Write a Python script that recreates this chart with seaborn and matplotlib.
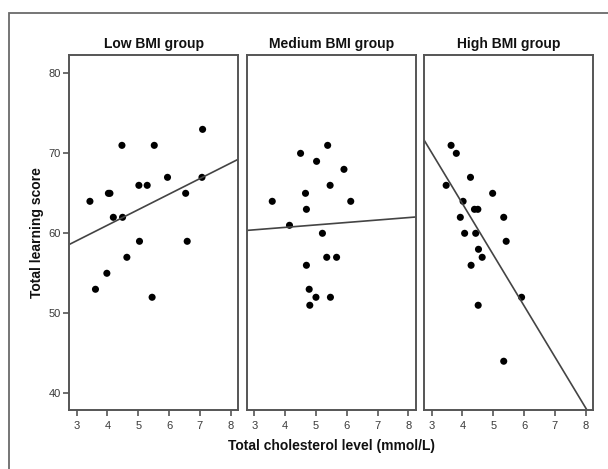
import matplotlib
matplotlib.use("Agg")
import matplotlib.pyplot as plt
from matplotlib.patches import Rectangle
import seaborn as sns
import numpy as np

sns.set_style("white")
plt.rcParams['font.family'] = ['Liberation Sans', 'DejaVu Sans']

titles = ["Low BMI group", "Medium BMI group", "High BMI group"]

low_x = [3.43, 4.03, 4.08, 4.47, 5.52, 4.19, 4.49, 5.02, 5.29, 5.95, 7.07, 7.09,
         6.54, 5.04, 6.59, 4.63, 3.98, 3.61, 5.45]
low_y = [64, 65, 65, 71, 71, 62, 62, 66, 66, 67, 67, 73, 65, 59, 59, 57, 55, 53, 52]

med_x = [3.58, 4.14, 4.50, 5.38, 5.02, 5.91, 5.46, 4.66, 6.13, 4.69, 5.21, 5.35,
         5.67, 4.69, 4.78, 5.00, 5.47, 4.80]
med_y = [64, 61, 70, 71, 69, 68, 66, 65, 64, 63, 60, 57, 57, 56, 53, 52, 52, 51]

high_x = [3.63, 3.80, 4.26, 3.47, 4.98, 4.02, 4.39, 4.50, 3.93, 5.34, 4.07, 4.43,
          5.42, 4.52, 4.64, 4.28, 4.51, 5.92, 5.34]
high_y = [71, 70, 67, 66, 65, 64, 63, 63, 62, 62, 60, 60, 59, 58, 57, 56, 51, 52, 44]

x_ticks = [3, 4, 5, 6, 7, 8]
y_ticks = [40, 50, 60, 70, 80]

groups = [(low_x, low_y), (med_x, med_y), (high_x, high_y)]

W, H = 608, 469
fig = plt.figure(figsize=(W / 100, H / 100), dpi=100)

# outer frame
fig.patches.append(Rectangle((9 / W, -0.1), 1.2, 1 - 13 / H + 0.1, transform=fig.transFigure,
                             fill=False, edgecolor="#6a6a6a", linewidth=1.3))

lefts = [69, 246.7, 424]
width = 169.3
top, bottom = 55, 410
spine_col = "#555555"
for i, ((gx, gy), title) in enumerate(zip(groups, titles)):
    ax = fig.add_axes([lefts[i] / W, 1 - bottom / H, width / W, (bottom - top) / H])
    ax.set_xlim(2.75, 8.25)
    ax.set_ylim(37.9, 82.3)
    sns.regplot(x=np.array(gx), y=np.array(gy), ax=ax, ci=None, truncate=False,
                scatter_kws=dict(s=26, color="black", edgecolors="none", alpha=1),
                line_kws=dict(color="#444444", linewidth=1.2))
    ax.set_xlim(2.75, 8.25)
    ax.set_ylim(37.9, 82.3)
    ax.set_xticks(x_ticks)
    ax.set_xticklabels([str(t) for t in x_ticks])
    ax.set_yticks(y_ticks)
    ax.set_yticklabels([str(t) for t in y_ticks])
    ax.tick_params(axis="both", direction="out", length=4, width=1.2, color=spine_col,
                   labelsize=8, labelcolor="#3a3a3a", pad=2,
                   bottom=True, left=(i == 0))
    ax.tick_params(axis="x", pad=4)
    if i > 0:
        ax.set_yticklabels([])
    for s in ax.spines.values():
        s.set_color(spine_col)
        s.set_linewidth(1.4)
    ax.set_xlabel("")
    ax.set_ylabel("")
    ax.set_title(title, fontsize=10, fontweight="bold", color="#111111", pad=5)
    if i == 0:
        ax.set_ylabel("Total learning score", fontsize=10, fontweight="bold",
                      color="#111111", labelpad=3)

fig.text(331 / W, 1 - 446 / H, "Total cholesterol level (mmol/L)", ha="center",
         va="center", fontsize=10, fontweight="bold", color="#111111")

fig.savefig("out.png", dpi=100)
